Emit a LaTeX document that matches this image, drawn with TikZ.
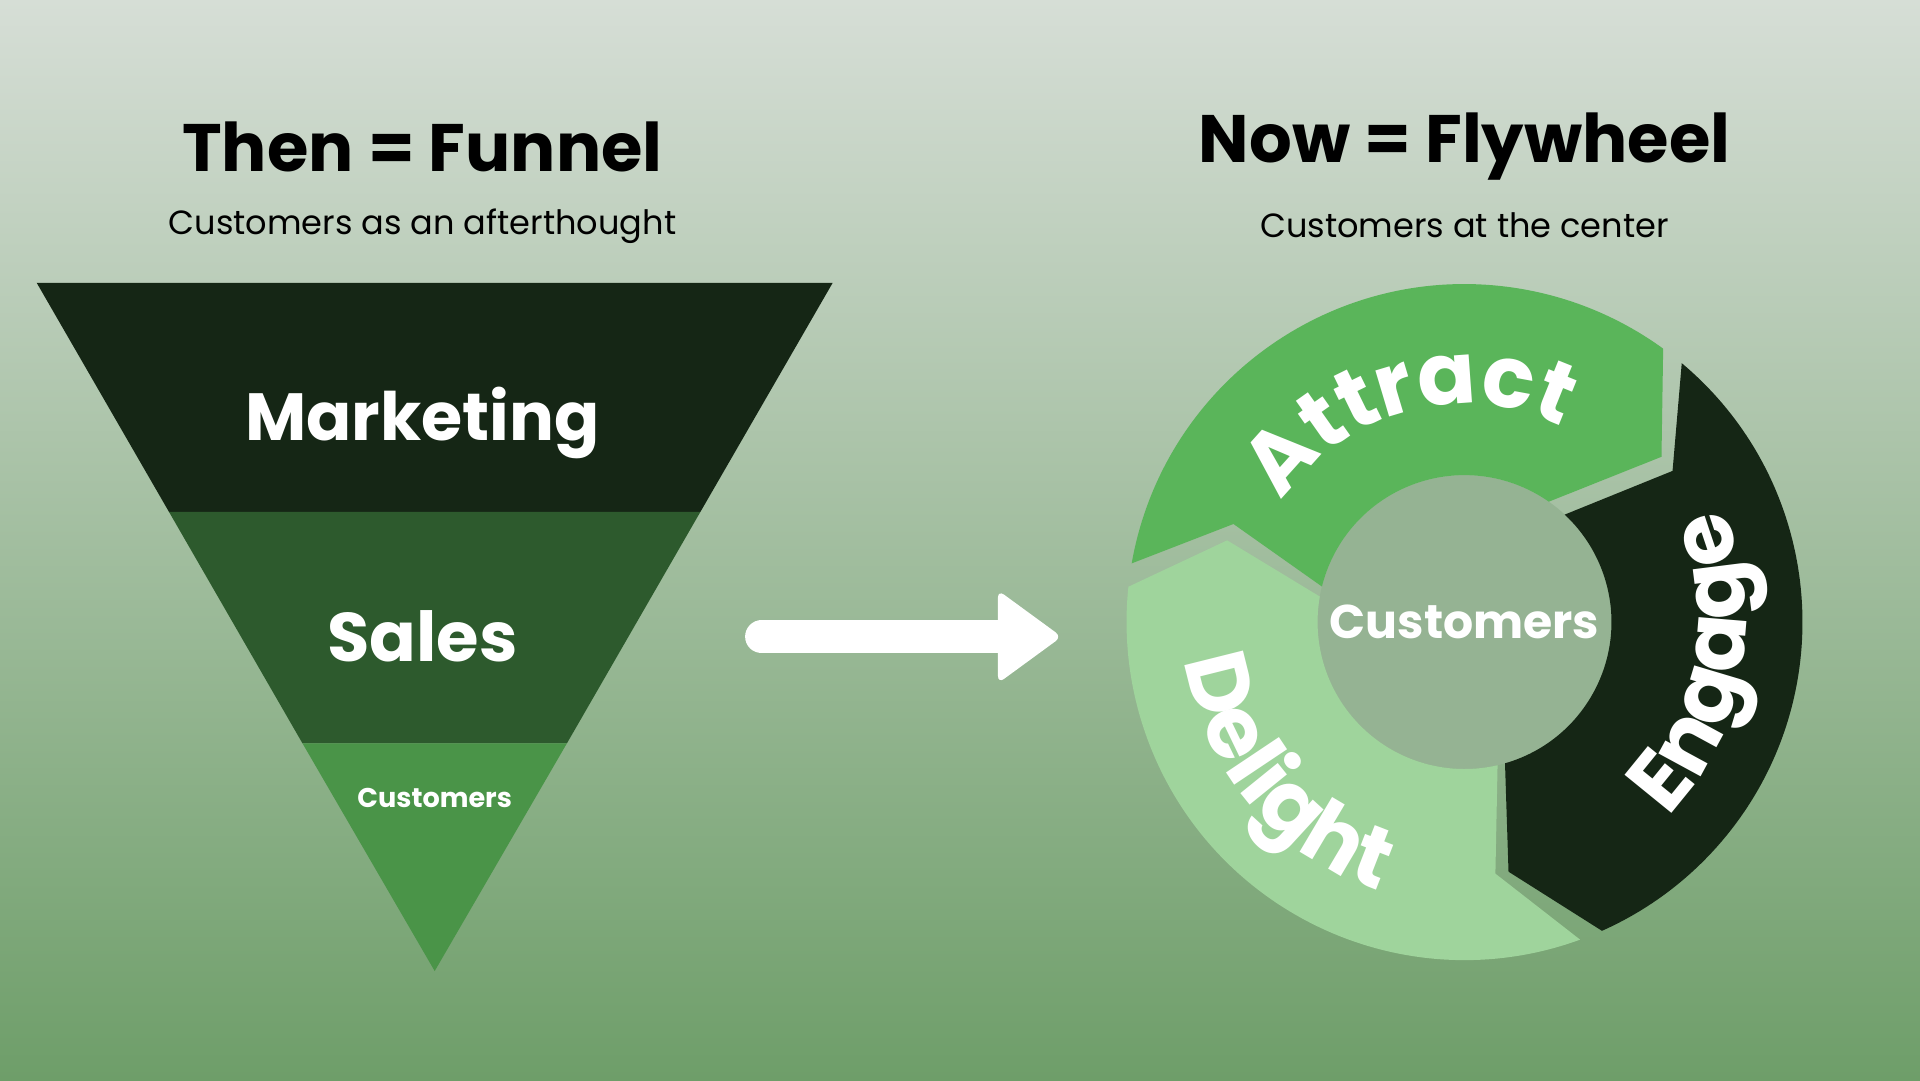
\documentclass[tikz,border=0pt]{standalone}
\usepackage{fontspec}
\setmainfont{Poppins}
\usetikzlibrary{decorations.text}
\definecolor{bgtop}{HTML}{D6DED6}
\definecolor{bgbot}{HTML}{6E9E69}
\definecolor{fdark}{HTML}{152615}
\definecolor{fmid}{HTML}{2D5A2D}
\definecolor{flight}{HTML}{4A9448}
\definecolor{attr}{HTML}{5AB55A}
\definecolor{deli}{HTML}{9FD49C}
\definecolor{ctr}{HTML}{95B393}
\tikzset{
 title/.style={font=\bfseries\fontsize{15.6}{18}\selectfont, text=black},
 sub/.style={font=\fontsize{7.8}{9}\selectfont, text=black},
 wtext/.style={text=white, font=\bfseries}
}
\begin{document}
\begin{tikzpicture}
\shade[top color=bgtop, bottom color=bgbot] (0,0) rectangle (15.68,-8.82);
\useasboundingbox (0,0) rectangle (15.68,-8.82);
% titles
\node[title] (t1) at (3.45,-1.2) {Then = Funnel};
\node[sub] (s1) at (3.45,-1.85) {Customers as an afterthought};
\node[title] (t2) at (11.96,-1.2) {Now = Flywheel};
\node[sub] (s2) at (11.96,-1.84) {Customers at the center};
% funnel
\fill[fdark] (0.30,-2.31) -- (6.80,-2.31) -- (5.72,-4.18) -- (1.38,-4.18) -- cycle;
\fill[fmid] (1.38,-4.18) -- (5.72,-4.18) -- (4.63,-6.07) -- (2.47,-6.07) -- cycle;
\fill[flight] (2.47,-6.07) -- (4.63,-6.07) -- (3.55,-7.93) -- cycle;
\node[wtext, font=\bfseries\fontsize{15.5}{18}\selectfont] (mk) at (3.45,-3.45) {Marketing};
\node[wtext, font=\bfseries\fontsize{16}{19}\selectfont] (sl) at (3.45,-5.2) {Sales};
\node[wtext, font=\bfseries\fontsize{6.3}{8}\selectfont] (cu) at (3.55,-6.52) {Customers};
% arrow
\coordinate (a1) at (6.22,-5.2);
\coordinate (a2) at (8.3,-5.2);
\draw[white, line width=0.27cm, line cap=round] (a1) -- (a2);
\fill[white, rounded corners=0.06cm] (8.15,-4.82) -- (8.67,-5.2) -- (8.15,-5.58) -- cycle;
% flywheel
\begin{scope}[shift={(11.96,-5.08)}]
\fill[ctr] (0,0) circle (1.2);
\fill[attr] (170:2.76) arc[start angle=170,end angle=54,radius=2.76] -- (40:2.1) -- (55:1.2) arc[start angle=55,end angle=166,radius=1.2] -- (157:2.05) -- cycle;
\fill[fdark] (50:2.76) arc[start angle=50,end angle=-66,radius=2.76] -- (-80:2.07) -- (-74:1.2) arc[start angle=-74,end angle=47,radius=1.2] -- (36:2.1) -- cycle;
\fill[deli] (-70:2.76) arc[start angle=-70,end angle=-186,radius=2.76] -- (-199:2.05) -- (-190:1.2) arc[start angle=-190,end angle=-77,radius=1.2] -- (-83:2.07) -- cycle;
\path[decorate, decoration={text along path, text align=center, text color=white,
  text={|\bfseries\fontsize{20}{24}\selectfont|Attract}}]
  (165:1.78) arc[start angle=165,end angle=45,radius=1.78];
\path[decorate, decoration={text along path, text align=center, text color=white,
  text={|\bfseries\fontsize{20}{24}\selectfont|Engage}}]
  (-65:2.3) arc[start angle=-65,end angle=45,radius=2.3];
\path[decorate, decoration={text along path, text align=center, text color=white,
  text={|\bfseries\fontsize{20}{24}\selectfont|Delight}}]
  (165:2.3) arc[start angle=165,end angle=275,radius=2.3];
\node[wtext, font=\bfseries\fontsize{11}{13}\selectfont] (cc) at (0,0) {Customers};
\end{scope}
\end{tikzpicture}
\end{document}
